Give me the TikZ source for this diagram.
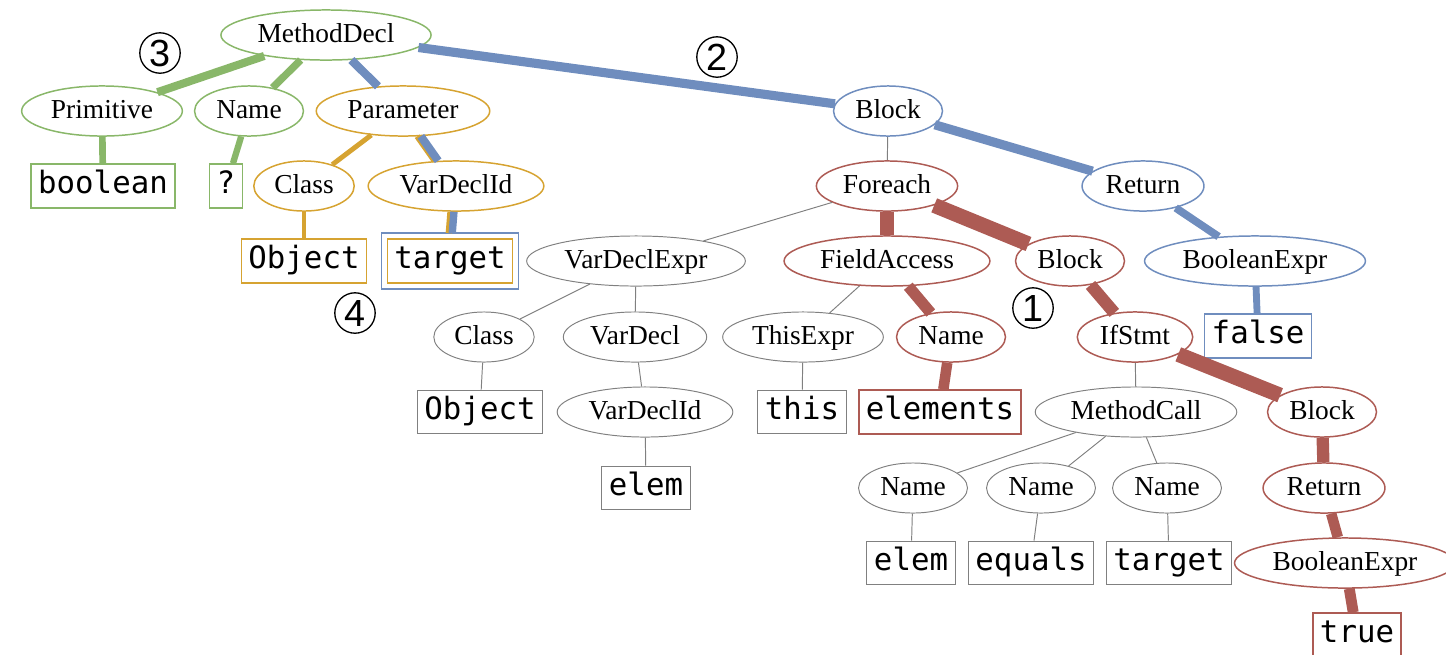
\documentclass[tikz,border=0pt]{standalone}
\usepackage{fontspec}
\setmainfont{Liberation Serif}
\setmonofont{DejaVu Sans Mono}
\newfontfamily\circfont{Liberation Sans}
\usetikzlibrary{shapes.geometric}
\definecolor{treegreen}{RGB}{137,183,105}
\definecolor{treeblue}{RGB}{111,141,190}
\definecolor{treered}{RGB}{173,91,84}
\definecolor{treeorange}{RGB}{214,163,49}
\definecolor{treegrey}{RGB}{128,128,128}
\begin{document}
\begin{tikzpicture}[x=0.02cm,y=-0.02cm]
            \tikzstyle{every node}=[ellipse,draw=treegrey,line width=0.55pt,inner xsep=3.3pt,inner ysep=0pt,minimum height=28.5pt,text height=10.5pt,text depth=2.5pt,font=\fontsize{15.6}{18}\selectfont]
            \tikzstyle{lit}=[rectangle,inner xsep=4pt,minimum height=25pt,text height=12pt,text depth=4pt,font=\ttfamily\fontsize{17.5}{20}\selectfont]
            \tikzstyle{gnode}=[draw=treegreen,line width=0.85pt]
            \tikzstyle{onode}=[draw=treeorange,line width=0.85pt]
            \tikzstyle{bnode}=[draw=treeblue,line width=0.85pt]
            \tikzstyle{rnode}=[draw=treered,line width=0.85pt]
            \tikzstyle{tag}=[circle,draw=black,line width=0.75pt,minimum size=23pt,inner sep=0pt,text height=15.5pt,text depth=0pt,font=\circfont\fontsize{21.5}{21.5}\selectfont]
            \tikzstyle{thinedge}=[draw=treegrey,line width=0.55pt]
            \useasboundingbox (0,0) rectangle (1446,654);
            \draw (326,35) node [gnode] (1) {MethodDecl};
            \draw (102,111) node [gnode] (2) {Primitive};
            \draw (249,111) node [gnode] (3) {Name};
            \draw (403,111) node [onode] (4) {Parameter};
            \draw (888,111) node [bnode] (5) {Block};
            \draw (103,186) node [lit,gnode] (6) {boolean};
            \draw (226,186) node [lit,gnode] (7) {?};
            \draw (304,186) node [onode] (8) {Class};
            \draw (456,186) node [onode] (9) {VarDeclId};
            \draw (887,186) node [rnode] (10) {Foreach};
            \draw (1143,186) node [bnode] (11) {Return};
            \draw (304,261) node [lit,onode] (12) {Object};
            \draw (450,261) node [lit,onode] (13) {target};
            \draw (636,261) node (14) {VarDeclExpr};
            \draw (887,261) node [rnode] (15) {FieldAccess};
            \draw (1070,261) node [rnode] (16) {Block};
            \draw (1255,261) node [bnode] (17) {BooleanExpr};
            \draw (484,337) node (18) {Class};
            \draw (635,337) node (19) {VarDecl};
            \draw (803,337) node (20) {ThisExpr};
            \draw (951,337) node [rnode] (21) {Name};
            \draw (1135,337) node [rnode] (22) {IfStmt};
            \draw (1258,336) node [lit,bnode] (23) {false};
            \draw (480,412) node [lit] (24) {Object};
            \draw (645,412) node (25) {VarDeclId};
            \draw (802,412) node [lit] (26) {this};
            \draw (940,412) node [lit,rnode] (27) {elements};
            \draw (1136,412) node (28) {MethodCall};
            \draw (1322,412) node [rnode] (29) {Block};
            \draw (646,488) node [lit] (30) {elem};
            \draw (913,488) node (31) {Name};
            \draw (1041,488) node (32) {Name};
            \draw (1167,488) node (33) {Name};
            \draw (1324,488) node [rnode] (34) {Return};
            \draw (911,563) node [lit] (35) {elem};
            \draw (1031,563) node [lit] (36) {equals};
            \draw (1169,563) node [lit] (37) {target};
            \draw (1345,563) node [rnode] (38) {BooleanExpr};
            \draw (1357,635) node [lit,rnode] (39) {true};
            \draw (160,53) node [tag] (40) {3};
            \draw (717,57) node [tag] (41) {2};
            \draw (355,313) node [tag] (42) {4};
            \draw (1033,308) node [tag] (43) {1};
            \draw[treeblue,line width=0.85pt] ([xshift=-3pt,yshift=-3pt]13.south west) rectangle ([xshift=3pt,yshift=3pt]13.north east);
            \draw[treegreen,line width=4.6pt] (1) -- (2);
            \draw[treegreen,line width=4.2pt] (1) -- (3);
            \draw[treegreen,line width=3.8pt] (2) -- (6);
            \draw[treegreen,line width=3.6pt] (3) -- (7);
            \draw[treeblue,line width=4.8pt] (1) -- (4);
            \draw[treeblue,line width=5.2pt] (1) -- (5);
            \draw[treeorange,line width=2.8pt] (4) -- (8);
            \draw[treeorange,line width=2.5pt] (8) -- (12);
            \draw[treeorange,line width=3.5pt,transform canvas={xshift=-2pt}] (4) -- (9);
            \draw[treeblue,line width=4.6pt] (4) -- (9);
            \draw[treeorange,line width=3.5pt,transform canvas={xshift=-2pt},shorten >=3pt] (9) -- (13);
            \draw[treeblue,line width=4.2pt,shorten >=3pt] (9) -- (13);
            \draw[treeblue,line width=5.2pt] (5) -- (11);
            \draw[treeblue,line width=4.4pt] (11) -- (17);
            \draw[treeblue,line width=3.9pt] (17) -- (23);
            \draw[thinedge] (5) -- (10);
            \draw[treered,line width=8pt] (10) -- (15);
            \draw[treered,line width=8.6pt] (10) -- (16);
            \draw[treered,line width=6.4pt] (15) -- (21);
            \draw[treered,line width=6pt] (21) -- (27);
            \draw[treered,line width=7pt] (16) -- (22);
            \draw[treered,line width=8.6pt] (22) -- (29);
            \draw[treered,line width=7pt] (29) -- (34);
            \draw[treered,line width=6pt] (34) -- (38);
            \draw[treered,line width=6.2pt] (38) -- (39);
            \draw[thinedge] (10) -- (14);
            \draw[thinedge] (14) -- (18);
            \draw[thinedge] (14) -- (19);
            \draw[thinedge] (18) -- (24);
            \draw[thinedge] (19) -- (25);
            \draw[thinedge] (25) -- (30);
            \draw[thinedge] (15) -- (20);
            \draw[thinedge] (20) -- (26);
            \draw[thinedge] (22) -- (28);
            \draw[thinedge] (28) -- (31);
            \draw[thinedge] (28) -- (32);
            \draw[thinedge] (28) -- (33);
            \draw[thinedge] (31) -- (35);
            \draw[thinedge] (32) -- (36);
            \draw[thinedge] (33) -- (37);
        \end{tikzpicture}
\end{document}
